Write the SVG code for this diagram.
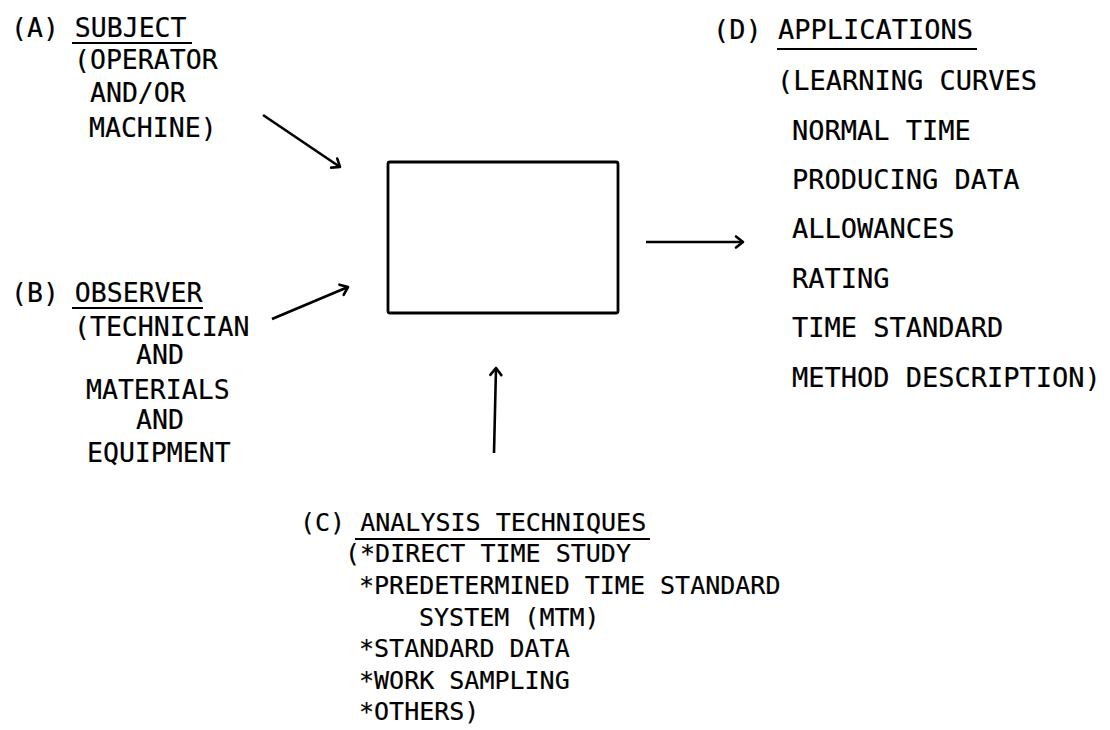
<svg xmlns="http://www.w3.org/2000/svg" width="1110" height="730" viewBox="0 0 1110 730">
<style>
text{font-family:"DejaVu Sans Mono","Liberation Mono",monospace;fill:#000;stroke:#000;stroke-width:0.2}
.a{font-size:26.5px}
.d{font-size:27px}
.c{font-size:25px}
.ul{stroke:#000;stroke-width:1.9;fill:none}
.conn{stroke:#000;stroke-width:2.6;fill:none;marker-end:url(#ah)}
</style>
<defs>
<marker id="ah" markerUnits="userSpaceOnUse" markerWidth="20" markerHeight="20" viewBox="-10 -10 20 20" refX="0" refY="0" orient="auto">
<path d="M-7,-5.5 L0,0 L-7,5.5" stroke="#000" stroke-width="2.6" fill="none" stroke-linecap="round" stroke-linejoin="round"/>
</marker>
</defs>
<rect width="1110" height="730" fill="#fff"/>
<g id="node-center">
<rect x="388" y="162" width="230" height="151" rx="2" fill="none" stroke="#000" stroke-width="2.8"/>
</g>
<g id="node-a">
<text x="11" y="37" class="a">(A) SUBJECT</text>
<line x1="72" y1="43" x2="192" y2="43" class="ul"/>
<text x="74" y="69" class="a">(OPERATOR</text>
<text x="90" y="102" class="a">AND/OR</text>
<text x="89" y="137" class="a">MACHINE)</text>
</g>
<g id="node-b">
<text x="11" y="302" class="a">(B) OBSERVER</text>
<line x1="72" y1="308" x2="203" y2="308" class="ul"/>
<text x="74" y="336" class="a">(TECHNICIAN</text>
<text x="136" y="364" class="a">AND</text>
<text x="86" y="399" class="a">MATERIALS</text>
<text x="136" y="429" class="a">AND</text>
<text x="87" y="462" class="a">EQUIPMENT</text>
</g>
<g id="node-d">
<text x="713" y="39" class="d">(D) APPLICATIONS</text>
<line x1="777" y1="49" x2="977" y2="49" class="ul"/>
<text x="777" y="90" class="d">(LEARNING CURVES</text>
<text x="792" y="140" class="d">NORMAL TIME</text>
<text x="792" y="189" class="d">PRODUCING DATA</text>
<text x="792" y="238" class="d">ALLOWANCES</text>
<text x="792" y="288" class="d">RATING</text>
<text x="792" y="337" class="d">TIME STANDARD</text>
<text x="792" y="387" class="d">METHOD DESCRIPTION)</text>
</g>
<g id="node-c">
<text x="300" y="531" class="c">(C) ANALYSIS TECHNIQUES</text>
<line x1="355" y1="539" x2="650" y2="539" class="ul"/>
<text x="345" y="562" class="c">(*DIRECT TIME STUDY</text>
<text x="359" y="594" class="c">*PREDETERMINED TIME STANDARD</text>
<text x="419" y="626" class="c">SYSTEM (MTM)</text>
<text x="359" y="657" class="c">*STANDARD DATA</text>
<text x="359" y="689" class="c">*WORK SAMPLING</text>
<text x="359" y="720" class="c">*OTHERS)</text>
</g>
<g id="connectors">
<line x1="263" y1="115" x2="340" y2="167" class="conn"/>
<line x1="272" y1="319" x2="348" y2="287" class="conn"/>
<line x1="494" y1="453" x2="496" y2="368" class="conn"/>
<line x1="646" y1="242" x2="743" y2="242" class="conn"/>
</g>
</svg>
